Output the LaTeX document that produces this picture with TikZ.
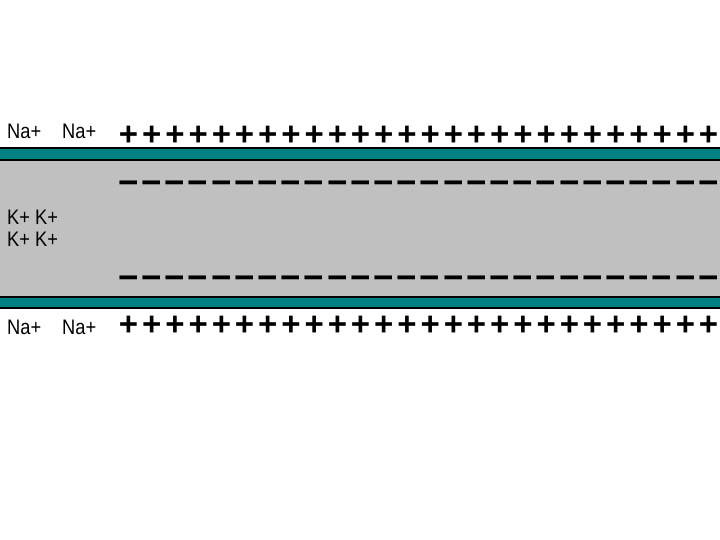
\documentclass[tikz,border=0pt]{standalone}
\usepackage{fontspec}
\setmainfont{Liberation Sans}
\newfontfamily\labfont[FakeStretch=0.87]{Liberation Sans}
\definecolor{memteal}{RGB}{0,128,128}
\definecolor{cytogray}{RGB}{192,192,192}
\begin{document}
\begin{tikzpicture}[x=1pt,y=-1pt,
  lab/.style={font=\labfont\fontsize{21}{21}\selectfont, inner sep=0pt, anchor=base west},
  chg/.style={font=\bfseries\fontsize{33}{33}\selectfont, inner sep=0pt, anchor=base},
  neg/.style={font=\bfseries\fontsize{35}{35}\selectfont, inner sep=0pt, anchor=base}]
\useasboundingbox (0,0) rectangle (720,540);
\fill[white] (0,0) rectangle (720,540);
% cytoplasm
\fill[cytogray] (0,161) rectangle (720,296);
% membranes
\fill[black] (0,147) rectangle (720,161);
\fill[memteal] (0,149) rectangle (720,159);
\fill[black] (0,296) rectangle (720,309);
\fill[memteal] (0,298) rectangle (720,307);
% ion labels
\node[lab] (na1) at (7,139) {Na+};
\node[lab] (na2) at (62,139) {Na+};
\node[lab] (k1) at (7,225) {K+ K+};
\node[lab] (k2) at (7,246) {K+ K+};
\node[lab] (na3) at (7,334) {Na+};
\node[lab] (na4) at (62,334) {Na+};
% charges
\foreach \i in {0,...,25}{
  \pgfmathsetmacro{\cx}{128.6+23.2*\i}
  \node[chg] (pt\i) at (\cx,145.6) {+};
  \node[neg] (mt\i) at (\cx,194.4) {−};
  \node[neg] (mb\i) at (\cx,289.9) {−};
  \node[chg] (pb\i) at (\cx,335.6) {+};
}
\end{tikzpicture}
\end{document}
